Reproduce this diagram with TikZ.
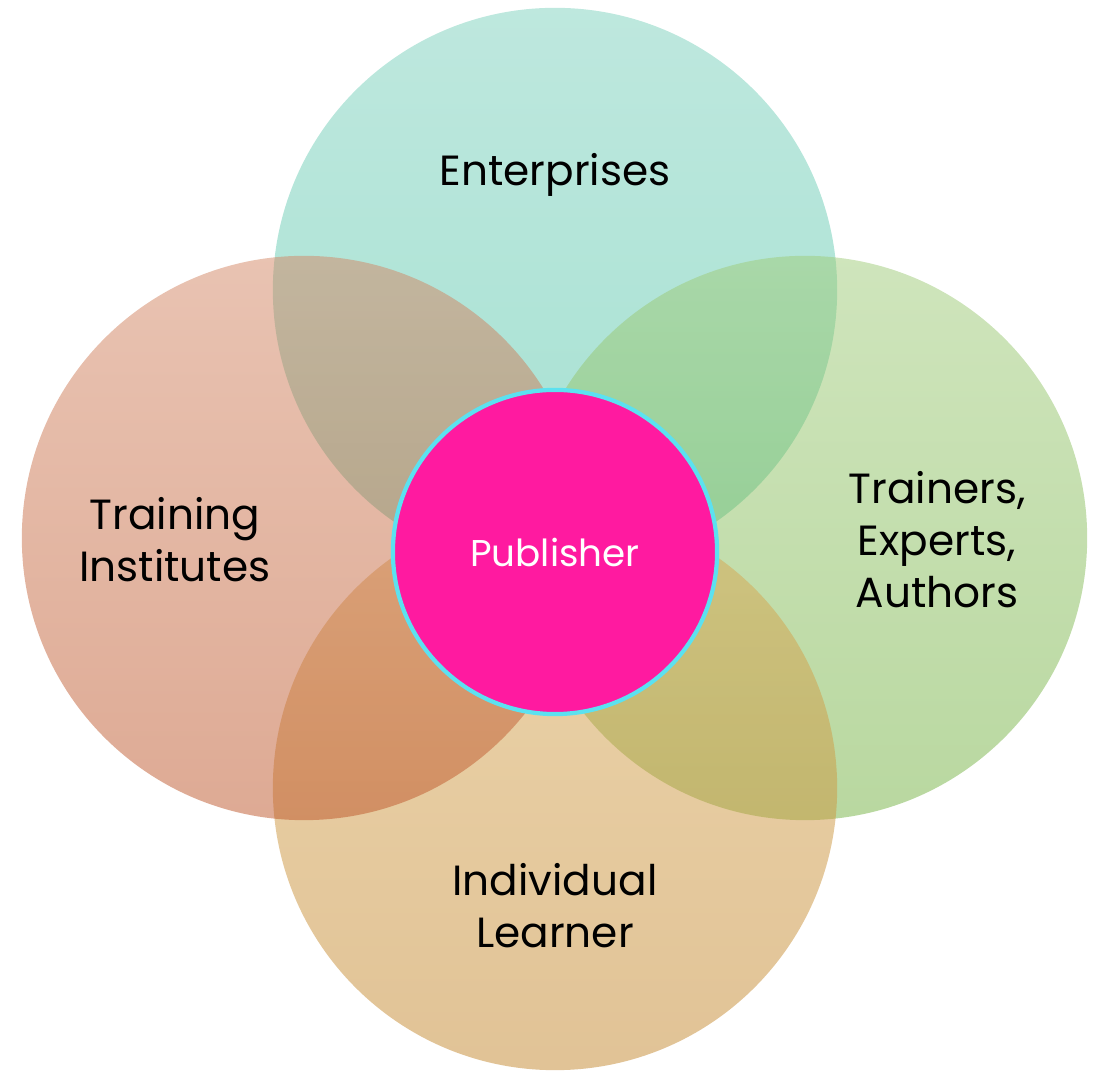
\documentclass[tikz,border=0pt]{standalone}
\usepackage{fontspec}
\setmainfont{Poppins}
\definecolor{entTop}{RGB}{125,209,189}\definecolor{entBot}{RGB}{75,195,165}
\definecolor{insTop}{RGB}{211,135,101}\definecolor{insBot}{RGB}{189,85,41}
\definecolor{trnTop}{RGB}{159,203,121}\definecolor{trnBot}{RGB}{115,177,65}
\definecolor{lrnTop}{RGB}{217,169,85}\definecolor{lrnBot}{RGB}{195,135,45}
\definecolor{pubFill}{RGB}{255,26,160}\definecolor{pubRim}{RGB}{92,225,240}
\begin{document}
\begin{tikzpicture}[x=0.01cm, y=-0.01cm,
  petal/.style={circle, draw=none, fill opacity=0.5, minimum size=5.64cm, inner sep=0pt},
  lbl/.style={align=center, font=\fontsize{12}{14.8}\selectfont, text=black},
  hub/.style={circle, fill=pubFill, draw=pubRim, line width=1.2pt, minimum size=3.24cm, inner sep=0pt,
    text=white, font=\fontsize{10.6}{13}\selectfont}]
\useasboundingbox (0,0) rectangle (1100,1071);
\node[petal, top color=entTop, bottom color=entBot] (ent) at (555,290) {};
\node[petal, top color=trnTop, bottom color=trnBot] (trn) at (805,538) {};
\node[petal, top color=lrnTop, bottom color=lrnBot] (lrn) at (555,788) {};
\node[petal, top color=insTop, bottom color=insBot] (ins) at (304,538) {};
% labels
\node[lbl] (entText) at (555,175) {Enterprises};
\node[lbl] (insText) at (175,540) {Training\\Institutes};
\node[lbl] (trnText) at (937,540) {Trainers,\\Experts,\\Authors};
\node[lbl] (lrnText) at (555,906) {Individual\\Learner};
\node[hub] (pub) at (555,552) {Publisher};
\end{tikzpicture}
\end{document}
